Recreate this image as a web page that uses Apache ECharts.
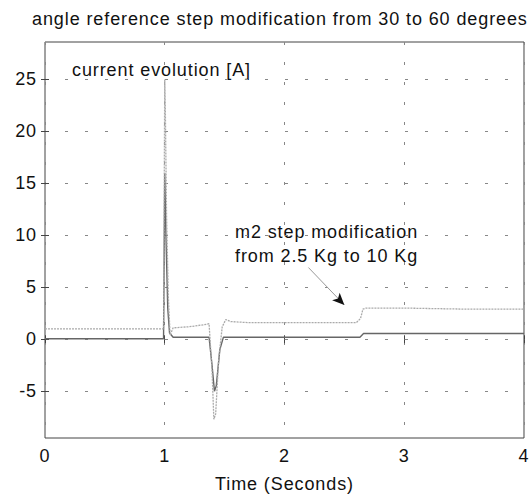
<!DOCTYPE html>
<html><head><meta charset="utf-8">
<script src="https://cdn.jsdelivr.net/npm/echarts@6/dist/echarts.min.js"></script>
<style>
html,body{margin:0;padding:0;background:#fff}
#chart{width:532px;height:498px}
#chart text{letter-spacing:0.9px}
</style>
</head><body><div id="chart"></div>
<script>
const xTicks = [0, 1, 2, 3, 4];
const yTicks = [-5, 0, 5, 10, 15, 20, 25];

// light (dotted) trace
const timeLight = [0, 0.99, 1.0, 1.005, 1.015, 1.03, 1.045, 1.07, 1.2, 1.33, 1.37, 1.395, 1.41, 1.425, 1.45, 1.48, 1.51, 1.55, 1.7, 2.0, 2.4, 2.6, 2.635, 2.655, 2.68, 3.0, 3.5, 4.0];
const currentLight = [1.0, 1.0, 25, 22, 12, 4, 0.4, 1.1, 1.2, 1.4, 1.5, -3, -7.7, -7.2, -2, 1.2, 1.9, 1.7, 1.6, 1.6, 1.6, 1.6, 2.0, 2.9, 3.0, 3.0, 2.9, 2.9];

// dark (solid) trace
const timeDark = [0, 0.99, 1.0, 1.01, 1.025, 1.04, 1.07, 1.37, 1.395, 1.415, 1.43, 1.46, 1.49, 2.63, 2.66, 3.0, 4.0];
const currentDark = [0.05, 0.05, 16, 10, 3, 0.6, 0.2, 0.2, -2.5, -5, -4.5, -1, 0.2, 0.2, 0.55, 0.55, 0.55];

const titleText = 'angle reference step modification from 30 to 60 degrees';
const xName = 'Time (Seconds)';
const noteCurrent = 'current evolution [A]';
const noteStep = 'm2 step modification\nfrom 2.5 Kg to 10 Kg';
const arrowFrom = [2.2, 6.9];
const arrowTo = [2.5, 3.3];

const FONT = "'Liberation Sans', Arial, Helvetica, sans-serif";
const zip = (t, v) => t.map((x, i) => [x, v[i]]);

const chart = echarts.init(document.getElementById('chart'), null, {renderer: 'svg'});
chart.setOption({
  animation: false,
  backgroundColor: '#fff',
  textStyle: {fontFamily: FONT},
  title: {
    text: titleText, left: 32, top: 10, padding: 0,
    textStyle: {fontSize: 18, fontWeight: 'normal', color: '#111', fontFamily: FONT}
  },
  grid: {left: 45, right: 5, top: 42, bottom: 60, show: true, borderColor: '#444', borderWidth: 1},
  xAxis: [{
    type: 'value', min: 0, max: 4, interval: 1,
    name: xName, nameLocation: 'middle', nameGap: 37,
    nameTextStyle: {fontSize: 18, color: '#111', fontFamily: FONT},
    axisLine: {show: false},
    axisTick: {show: true, inside: true, length: 4, lineStyle: {color: '#444'}},
    axisLabel: {fontSize: 18, color: '#111', margin: 9, fontFamily: FONT},
    splitLine: {show: true, lineStyle: {color: '#888', type: [3, 17], width: 1}}
  }, {
    type: 'value', min: 0, max: 4, interval: 1, position: 'top',
    axisLine: {show: false},
    axisTick: {show: true, inside: true, length: 4, lineStyle: {color: '#444'}},
    axisLabel: {show: false}, splitLine: {show: false}
  }],
  yAxis: [{
    type: 'value', min: -9.5, max: 28.6,
    axisLine: {show: false},
    axisTick: {show: true, inside: true, length: 4, customValues: yTicks, lineStyle: {color: '#444'}},
    axisLabel: {fontSize: 18, color: '#111', margin: 8, customValues: yTicks, fontFamily: FONT},
    splitLine: {show: true, lineStyle: {color: '#888', type: [3, 17], width: 1}}
  }, {
    type: 'value', min: -9.5, max: 28.6, position: 'right',
    axisLine: {show: false},
    axisTick: {show: true, inside: true, length: 4, customValues: yTicks, lineStyle: {color: '#444'}},
    axisLabel: {show: false}, splitLine: {show: false}
  }],
  series: [{
    type: 'line', data: zip(timeDark, currentDark), showSymbol: false,
    lineStyle: {color: '#666', width: 1.4}
  }, {
    type: 'line', data: zip(timeLight, currentLight), showSymbol: false,
    lineStyle: {color: '#aaa', width: 1.3, type: [2, 1]},
    markLine: {
      silent: true, symbol: ['none', 'none'], label: {show: false},
      lineStyle: {color: '#999', width: 1, type: 'solid'},
      data: [[{coord: arrowFrom}, {coord: arrowTo}]]
    },
    markPoint: {
      silent: true, label: {show: false},
      symbol: 'arrow', symbolSize: [8, 12], symbolRotate: 225,
      itemStyle: {color: '#111'},
      data: [{coord: arrowTo}]
    }
  }],
  graphic: [{
    type: 'text', left: 72, top: 61,
    style: {text: noteCurrent, font: "18px " + FONT, fill: '#111'}
  }, {
    type: 'text', left: 235, top: 220,
    style: {text: noteStep, font: "18px " + FONT, fill: '#111', lineHeight: 24}
  }]
});
</script>
</body></html>
